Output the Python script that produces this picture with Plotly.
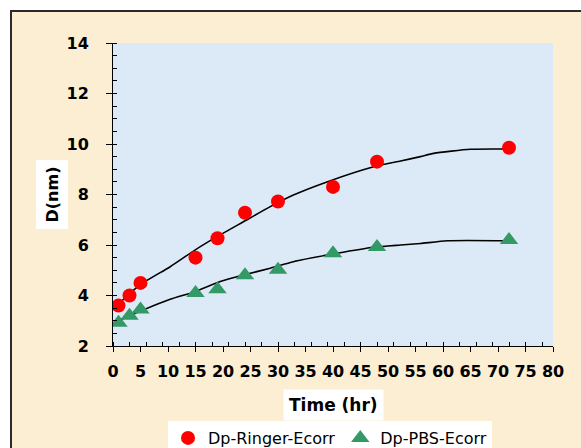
import plotly.graph_objects as go

# ---- data ----
time_hr = [1, 3, 5, 15, 19, 24, 30, 40, 48, 72]
ringer_d = [3.6, 4.0, 4.5, 5.5, 6.27, 7.28, 7.72, 8.3, 9.3, 9.85]
pbs_d = [2.92, 3.2, 3.45, 4.1, 4.25, 4.8, 5.02, 5.67, 5.92, 6.2]

# trend lines
ringer_fit_x = [0.8, 4.9, 10.4, 14.9, 18.9, 23.7, 28.6, 32.8, 38.9, 47.4, 52.3, 55.9, 58.3, 65, 72]
ringer_fit_y = [3.62, 4.42, 5.14, 5.8, 6.33, 6.92, 7.52, 7.98, 8.5, 9.1, 9.33, 9.5, 9.63, 9.79, 9.8]
pbs_fit_x = [0.8, 5.5, 10.4, 14.9, 19.5, 23.7, 28.6, 32.8, 40.7, 47.4, 52.3, 55.9, 60.8, 72]
pbs_fit_y = [2.99, 3.43, 3.85, 4.15, 4.55, 4.81, 5.08, 5.34, 5.67, 5.91, 6.0, 6.06, 6.17, 6.17]

series_names = ["Dp-Ringer-Ecorr", "Dp-PBS-Ecorr"]
x_title = "Time (hr)"
y_title = "D(nm)"

FONT = "DejaVu Sans"
L, R, T, B = 113, 28, 43, 102
W, H = 581, 448
PW, PH = W - L - R, H - T - B


def px(x):
    return (x - L) / PW


def py(y):
    return (H - B - y) / PH


fig = go.Figure()
fig.add_trace(go.Scatter(x=ringer_fit_x, y=ringer_fit_y, mode="lines",
                         line=dict(color="black", width=1.6, shape="spline", smoothing=0.6),
                         showlegend=False, hoverinfo="skip"))
fig.add_trace(go.Scatter(x=pbs_fit_x, y=pbs_fit_y, mode="lines",
                         line=dict(color="black", width=1.6, shape="spline", smoothing=0.6),
                         showlegend=False, hoverinfo="skip"))
fig.add_trace(go.Scatter(x=time_hr, y=ringer_d, mode="markers", name=series_names[0],
                         marker=dict(symbol="circle", size=14, color="#ff0000")))
fig.add_trace(go.Scatter(x=time_hr, y=pbs_d, mode="markers", name=series_names[1],
                         marker=dict(symbol="triangle-up", size=16, color="#339966")))

shapes = [
    # white strips outside the frame
    dict(type="rect", xref="paper", yref="paper", x0=-1, x1=2, y0=py(11), y1=2,
         fillcolor="white", line=dict(width=0), layer="below"),
    dict(type="rect", xref="paper", yref="paper", x0=-1, x1=px(11), y0=-2, y1=2,
         fillcolor="white", line=dict(width=0), layer="below"),
    # frame border
    dict(type="rect", xref="paper", yref="paper", x0=px(11), x1=px(W + 20), y0=py(H + 20), y1=py(11),
         fillcolor="rgba(0,0,0,0)", line=dict(color="#2a2a2a", width=2), layer="above"),
]

annotations = [
    dict(text="<b>" + x_title + "</b>", xref="paper", yref="paper", x=0.5, y=py(405),
         xanchor="center", yanchor="middle", showarrow=False, bgcolor="white", borderpad=5,
         font=dict(family=FONT, size=17, color="black")),
    dict(text="<b>" + y_title + "</b>", xref="paper", yref="paper", x=px(52), y=0.5,
         xanchor="center", yanchor="middle", showarrow=False, bgcolor="white", borderpad=6,
         textangle=-90, font=dict(family=FONT, size=16, color="black")),
]

fig.update_layout(
    width=W, height=H,
    margin=dict(l=L, r=R, t=T, b=B, autoexpand=False),
    paper_bgcolor="#fbeed3",
    plot_bgcolor="#dce9f6",
    font=dict(family=FONT, color="black"),
    shapes=shapes,
    annotations=annotations,
    legend=dict(orientation="h", x=px(330), xanchor="center", y=py(421), yanchor="top",
                bgcolor="white", font=dict(family=FONT, size=16, color="black"),
                itemwidth=30, tracegroupgap=0),
    xaxis=dict(range=[0, 80], dtick=5, tick0=0, showgrid=False, zeroline=False,
               showline=True, linecolor="black", linewidth=1,
               ticks="outside", ticklen=5, tickcolor="black",
               minor=dict(dtick=3, tick0=0, ticks="inside", ticklen=4, tickcolor="black", showgrid=False),
               tickfont=dict(family=FONT, size=16, color="black", weight="bold"),
               ticklabelstandoff=6),
    yaxis=dict(range=[2, 14], dtick=2, tick0=2, showgrid=False, zeroline=False,
               showline=True, linecolor="black", linewidth=1,
               ticks="outside", ticklen=6, tickcolor="black",
               minor=dict(dtick=0.5, ticks="inside", ticklen=4, tickcolor="black", showgrid=False),
               tickfont=dict(family=FONT, size=16, color="black", weight="bold"),
               ticklabelstandoff=14),
)

fig.write_html("out.html")
